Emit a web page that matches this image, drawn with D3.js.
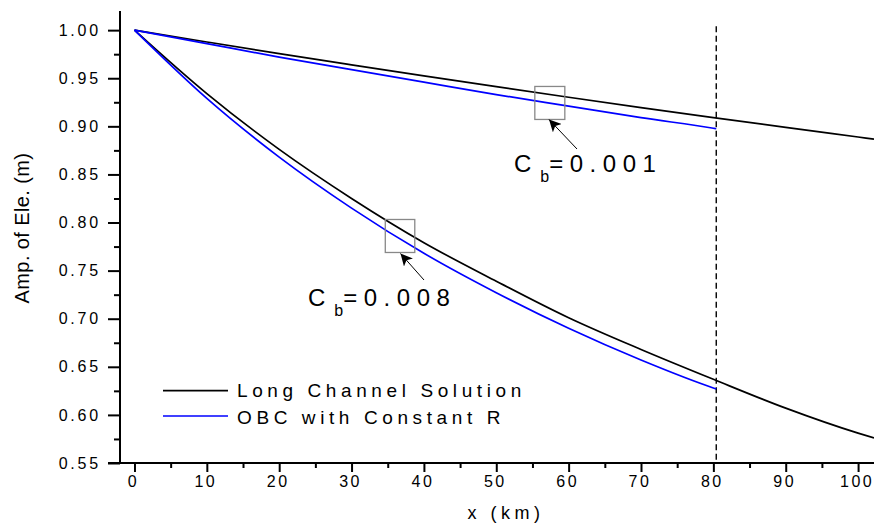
<!DOCTYPE html>
<html>
<head>
<meta charset="utf-8">
<script src="https://cdn.jsdelivr.net/npm/d3@7"></script>
<style>
  body { margin: 0; background: #fff; }
  svg { display: block; font-family: Arial, "Liberation Sans", sans-serif; }
</style>
</head>
<body>
<svg id="chart" width="874" height="527"></svg>
<script>
// distance along the channel (km)
var xKm = [0, 10, 20, 30, 40, 50, 60, 70, 80, 90, 100, 102.2];
var xObc = [0, 10, 20, 30, 40, 50, 60, 70, 80, 80.4];

// Cb = 0.001
var longLow = [1.000, 0.9877, 0.9756, 0.9639, 0.9524, 0.9412, 0.9302, 0.9195, 0.9091, 0.8989, 0.8889, 0.8867];
var obcLow = [1.000, 0.986, 0.972, 0.959, 0.946, 0.933, 0.921, 0.909, 0.898, 0.8975];
// Cb = 0.008
var longHigh = [1.000, 0.934, 0.876, 0.825, 0.779, 0.739, 0.701, 0.668, 0.637, 0.607, 0.581, 0.576];
var obcHigh = [1.000, 0.929, 0.868, 0.815, 0.768, 0.727, 0.690, 0.657, 0.628, 0.627];

var xTicks = [0, 10, 20, 30, 40, 50, 60, 70, 80, 90, 100];
var xMinor = [5, 15, 25, 35, 45, 55, 65, 75, 85, 95];
var yTicks = [0.55, 0.60, 0.65, 0.70, 0.75, 0.80, 0.85, 0.90, 0.95, 1.00];
var yMinor = [0.575, 0.625, 0.675, 0.725, 0.775, 0.825, 0.875, 0.925, 0.975];

var boundaryX = 80.4;
var legendNames = ["Long Channel Solution", "OBC with Constant R"];

var svg = d3.select("#chart");

var x = d3.scaleLinear().domain([-2, 102.2]).range([120, 874]);
var y = d3.scaleLinear().domain([0.55, 1.02]).range([463, 10.9]);

var line = d3.line()
    .x(d => x(d[0]))
    .y(d => y(d[1]))
    .curve(d3.curveMonotoneX);

// axes
var xAxis = svg.append("g")
    .attr("transform", "translate(0,463)")
    .call(d3.axisBottom(x).tickValues(xTicks).tickSize(9).tickFormat(d3.format("d")));
xAxis.select(".domain").remove();
xAxis.selectAll(".tick line").attr("stroke-width", 2);
xAxis.selectAll(".tick text")
    .attr("font-size", 16).attr("letter-spacing", 2.5)
    .attr("y", 13).attr("dx", -1.5)
    .attr("font-family", "Arial, 'Liberation Sans', sans-serif");

svg.append("g")
    .attr("transform", "translate(0,463)")
    .call(d3.axisBottom(x).tickValues(xMinor).tickSize(5).tickFormat(""))
    .call(g => g.select(".domain").remove())
    .selectAll(".tick line").attr("stroke-width", 2);

var yAxis = svg.append("g")
    .attr("transform", "translate(120,0)")
    .call(d3.axisLeft(y).tickValues(yTicks).tickSize(12).tickFormat(d3.format(".2f")));
yAxis.select(".domain").remove();
yAxis.selectAll(".tick line").attr("stroke-width", 2);
yAxis.selectAll(".tick text")
    .attr("font-size", 16).attr("letter-spacing", 2.8)
    .attr("x", -19)
    .attr("font-family", "Arial, 'Liberation Sans', sans-serif");

svg.append("g")
    .attr("transform", "translate(120,0)")
    .call(d3.axisLeft(y).tickValues(yMinor).tickSize(6).tickFormat(""))
    .call(g => g.select(".domain").remove())
    .selectAll(".tick line").attr("stroke-width", 2);

svg.append("line")
    .attr("x1", 108).attr("x2", 874).attr("y1", 463).attr("y2", 463)
    .attr("stroke", "#000").attr("stroke-width", 2);
svg.append("line")
    .attr("x1", 120).attr("x2", 120).attr("y1", y(1.02)).attr("y2", 464)
    .attr("stroke", "#000").attr("stroke-width", 2);

// axis titles
svg.append("text")
    .attr("x", 506).attr("y", 519)
    .attr("text-anchor", "middle")
    .attr("font-size", 18).attr("letter-spacing", 4.5)
    .text("x (km)");

svg.append("text")
    .attr("transform", "translate(29,228) rotate(-90)")
    .attr("text-anchor", "middle")
    .attr("font-size", 20).attr("letter-spacing", 0.4)
    .text("Amp. of Ele. (m)");

// boundary of the short domain
svg.append("line")
    .attr("x1", x(boundaryX)).attr("x2", x(boundaryX))
    .attr("y1", y(1.004)).attr("y2", 462)
    .attr("stroke", "#000").attr("stroke-width", 1.4)
    .attr("stroke-dasharray", "6,3.5");

// curves
var series = [
    { xs: xKm, ys: longLow, color: "#000" },
    { xs: xKm, ys: longHigh, color: "#000" },
    { xs: xObc, ys: obcLow, color: "#0000ff" },
    { xs: xObc, ys: obcHigh, color: "#0000ff" }
];
svg.append("g").selectAll("path")
    .data(series)
    .join("path")
    .attr("d", d => line(d.xs.map((v, i) => [v, d.ys[i]])))
    .attr("fill", "none")
    .attr("stroke", d => d.color)
    .attr("stroke-width", 1.7);

// annotations
svg.append("defs").append("marker")
    .attr("id", "arrow")
    .attr("viewBox", "0 0 10 10")
    .attr("refX", 10).attr("refY", 5)
    .attr("markerWidth", 12).attr("markerHeight", 12)
    .attr("markerUnits", "userSpaceOnUse")
    .attr("orient", "auto")
    .append("path").attr("d", "M0,0L10,5L0,10L2.5,5Z").attr("fill", "#000");

var notes = [
    { bx: 57.4, by: 0.9243, w: 30, h: 33, from: [577, 149], to: [549, 119.5], tx: 514, ty: 172, label: "0.001" },
    { bx: 36.7, by: 0.786, w: 29.5, h: 33, from: [424, 280], to: [400.5, 253.5], tx: 308, ty: 306, label: "0.008" }
];

notes.forEach(n => {
    svg.append("rect")
        .attr("x", x(n.bx) - n.w / 2).attr("y", y(n.by) - n.h / 2)
        .attr("width", n.w).attr("height", n.h)
        .attr("fill", "none").attr("stroke", "#888").attr("stroke-width", 1.3);
    svg.append("line")
        .attr("x1", n.from[0]).attr("y1", n.from[1])
        .attr("x2", n.to[0]).attr("y2", n.to[1])
        .attr("stroke", "#000").attr("stroke-width", 1)
        .attr("marker-end", "url(#arrow)");
    var t = svg.append("text")
        .attr("x", n.tx).attr("y", n.ty)
        .attr("font-size", 24);
    t.append("tspan").text("C");
    t.append("tspan").attr("dx", 9).attr("dy", 10).attr("font-size", 16).text("b");
    t.append("tspan").attr("dx", 0).attr("dy", -10).attr("letter-spacing", 6.5).text("=" + n.label);
});

// legend
var legend = svg.append("g");
legendNames.forEach((name, i) => {
    legend.append("line")
        .attr("x1", 163).attr("x2", 228)
        .attr("y1", 390.7 + i * 25.3).attr("y2", 390.7 + i * 25.3)
        .attr("stroke", i === 0 ? "#000" : "#0000ff").attr("stroke-width", 1.7);
    legend.append("text")
        .attr("x", 237).attr("y", 397 + i * 26.5)
        .attr("font-size", 19).attr("letter-spacing", 4.6)
        .text(name);
});
</script>
</body>
</html>
